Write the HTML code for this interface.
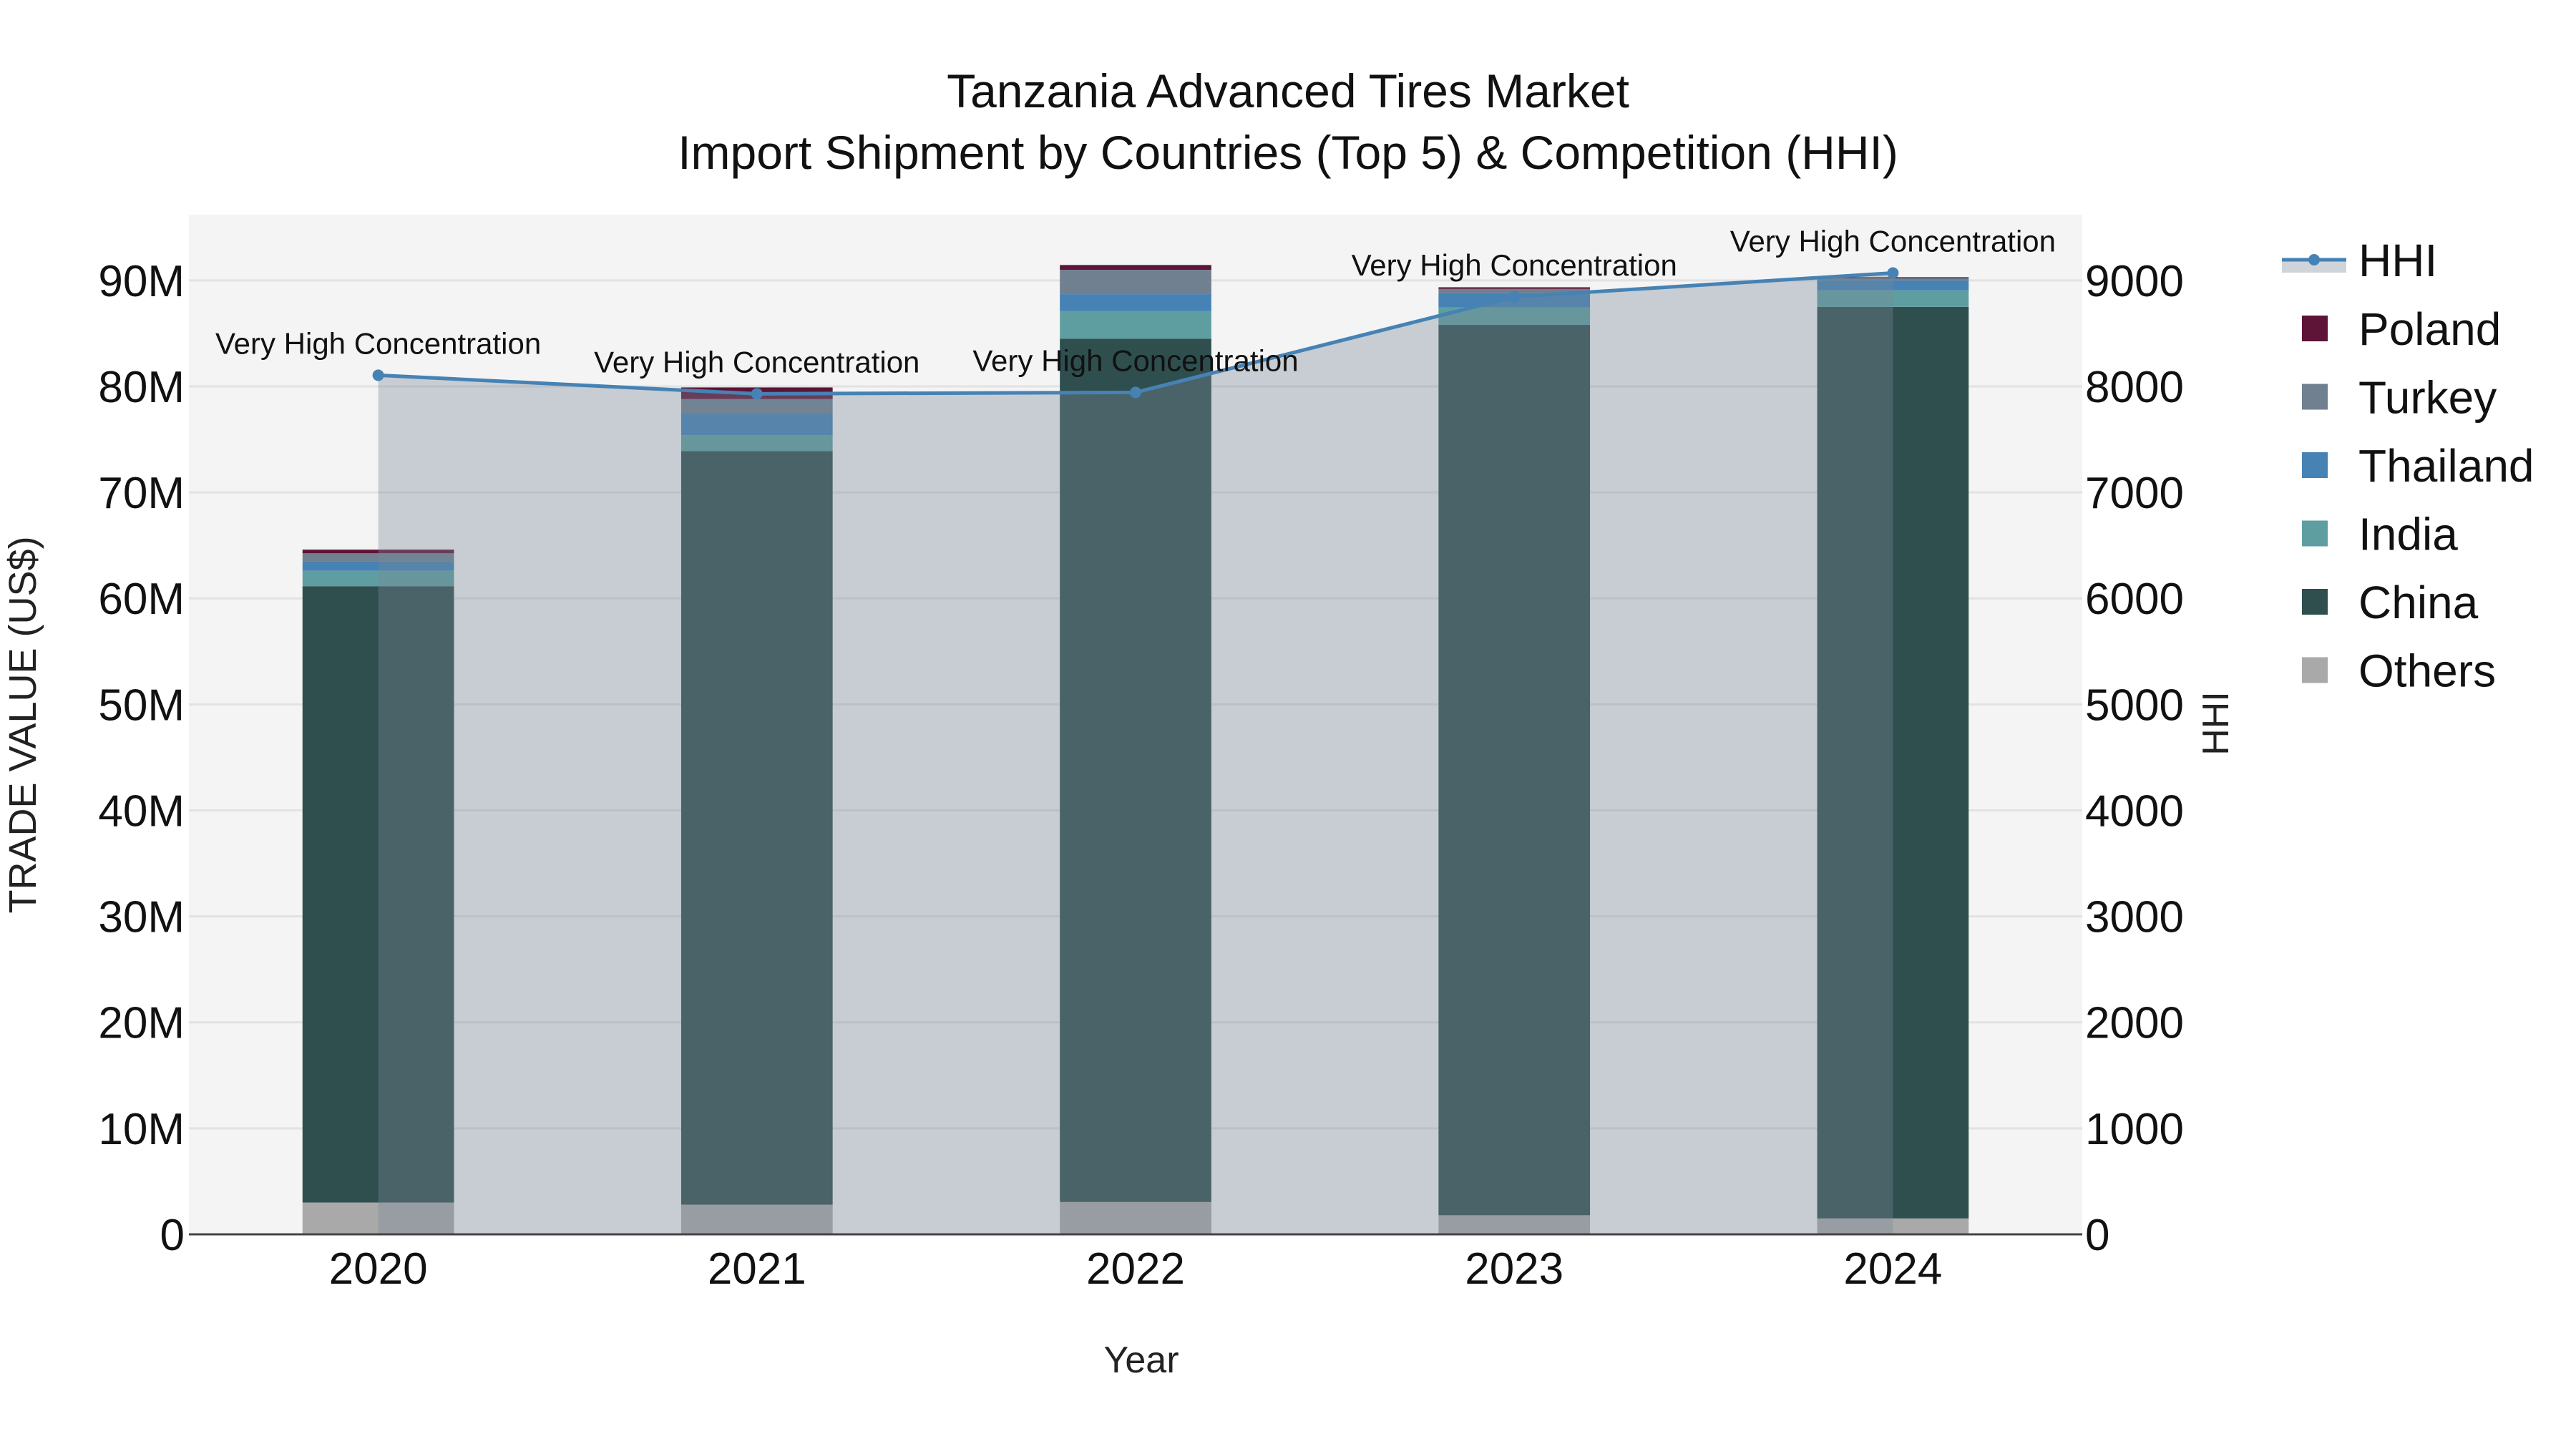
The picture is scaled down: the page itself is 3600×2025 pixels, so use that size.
<!DOCTYPE html>
<html><head><meta charset="utf-8"><style>
html,body{margin:0;padding:0;background:#fff;}
svg{display:block;font-family:"Liberation Sans",Arial,sans-serif;}
</style></head><body>
<svg id="chart" width="3600" height="2025" viewBox="0 0 3600 2025" xmlns="http://www.w3.org/2000/svg">
<rect x="0" y="0" width="3600" height="2025" fill="#ffffff"/>
<rect x="264" y="300" width="2646" height="1425" fill="#f4f4f4"/>
<g id="grid"></g>
<g id="bars"></g>
<g id="hhi"></g>
<line x1="264" y1="1725" x2="2910" y2="1725" stroke="#444" stroke-width="3"/>
<g id="axes"></g>
<text x="1800" y="150" font-size="66" text-anchor="middle" fill="#111">Tanzania Advanced Tires Market</text>
<text x="1800" y="236" font-size="66" text-anchor="middle" fill="#111">Import Shipment by Countries (Top 5) &amp; Competition (HHI)</text>
<text x="1595" y="1918" font-size="52" text-anchor="middle" fill="#222">Year</text>
<text transform="translate(50,1013) rotate(-90)" font-size="54" text-anchor="middle" fill="#222">TRADE VALUE (US$)</text>
<text transform="translate(3114,1011) rotate(-90)" font-size="52" text-anchor="middle" fill="#222">HHI</text>
<g id="legend"></g>
</svg>
<script>
const years = ["2020","2021","2022","2023","2024"];
const others = [3.0, 2.8, 3.05, 1.8, 1.5];
const china = [58.15, 71.1, 81.45, 84.0, 86.0];
const india = [1.45, 1.5, 2.6, 1.65, 1.56];
const thailand = [0.9, 2.0, 1.6, 1.35, 0.94];
const turkey = [0.75, 1.4, 2.3, 0.4, 0.2];
const poland = [0.35, 1.1, 0.45, 0.15, 0.1];
const hhi = [8105, 7930, 7943, 8845, 9070];
const hhiLabels = ["Very High Concentration","Very High Concentration","Very High Concentration","Very High Concentration","Very High Concentration"];
const yTicks = [0,10,20,30,40,50,60,70,80,90];
const yTickLabels = ["0","10M","20M","30M","40M","50M","60M","70M","80M","90M"];
const y2Ticks = [0,1000,2000,3000,4000,5000,6000,7000,8000,9000];

const NS="http://www.w3.org/2000/svg";
const PL=264, PR=2910, PT=300, PB=1725;
const yMax=96.2;
function yScale(v){return PB-(v/yMax)*(PB-PT);}
function y2Scale(v){return PB-(v/9620)*(PB-PT);}
const band=(PR-PL)/years.length;
function xScale(i){return PL+band*(i+0.5);}
const barW=band*0.4;
function mk(tag,attrs,parent){const e=document.createElementNS(NS,tag);for(const k in attrs)e.setAttribute(k,attrs[k]);parent.appendChild(e);return e;}

const grid=document.getElementById('grid');
const axes=document.getElementById('axes');
yTicks.forEach((t,i)=>{
  if(t>0){const g=mk('line',{x1:PL,x2:PR,y1:yScale(t),y2:yScale(t),stroke:'#e2e2e2','stroke-width':3},grid);
  
  }
  const l=mk('text',{x:PL-6,y:yScale(t)+22,'font-size':62,'text-anchor':'end',fill:'#111'},axes);
  l.textContent=yTickLabels[i];
  
  
});
y2Ticks.forEach(t=>{
  const l=mk('text',{x:PR+4,y:y2Scale(t)+22,'font-size':62,'text-anchor':'start',fill:'#111'},axes);
  l.textContent=String(t);
  
  
});
years.forEach((y,i)=>{
  const l=mk('text',{x:xScale(i),y:1794,'font-size':62,'text-anchor':'middle',fill:'#111'},axes);
  l.textContent=y;
  
  
});

const series=[["others",others,"#a9a9a9"],["china",china,"#2f4f4f"],["india",india,"#5f9ea0"],["thailand",thailand,"#4682b4"],["turkey",turkey,"#708090"],["poland",poland,"#5e1437"]];
const bars=document.getElementById('bars');
years.forEach((y,i)=>{
  let base=0;
  series.forEach(s=>{
    const v=s[1][i];
    const r=mk('rect',{x:xScale(i)-barW/2,y:yScale(base+v),width:barW,height:yScale(base)-yScale(base+v),fill:s[2]},bars);
    
    
    base+=v;
  });
});

const hg=document.getElementById('hhi');
let pts=hhi.map((v,i)=>[xScale(i),y2Scale(v)]);
let d='M'+pts[0][0]+','+PB+' '+pts.map(p=>'L'+p[0]+','+p[1]).join(' ')+' L'+pts[pts.length-1][0]+','+PB+' Z';
const area=mk('path',{d:d,fill:'rgba(119,136,153,0.36)'},hg);


const ln=mk('polyline',{points:pts.map(p=>p.join(',')).join(' '),fill:'none',stroke:'#4682b4','stroke-width':5},hg);


pts.forEach((p,i)=>{
  const c=mk('circle',{cx:p[0],cy:p[1],r:8,fill:'#4682b4'},hg);
  
  
  const t=mk('text',{x:p[0],y:p[1]-30,'font-size':42,'text-anchor':'middle',fill:'#111'},hg);
  t.textContent=hhiLabels[i];
  
  
});

const lg=document.getElementById('legend');
const l0=mk('g',{},lg);


mk('rect',{x:3189,y:363,width:90,height:18,fill:'rgba(119,136,153,0.36)'},l0);
mk('line',{x1:3189,x2:3279,y1:363,y2:363,stroke:'#4682b4','stroke-width':5},l0);
mk('circle',{cx:3234,cy:363,r:8,fill:'#4682b4'},l0);
const t0=mk('text',{x:3296,y:386,'font-size':64,fill:'#111'},l0);t0.textContent='HHI';
const legItems=[["Poland","#5e1437"],["Turkey","#708090"],["Thailand","#4682b4"],["India","#5f9ea0"],["China","#2f4f4f"],["Others","#a9a9a9"]];
legItems.forEach((it,k)=>{
  const cy=459+k*95.5;
  const g=mk('g',{},lg);
  
  
  mk('rect',{x:3217,y:cy-18,width:36,height:36,fill:it[1]},g);
  const t=mk('text',{x:3296,y:cy+23,'font-size':64,fill:'#111'},g);
  t.textContent=it[0];
});
</script>
</body></html>
